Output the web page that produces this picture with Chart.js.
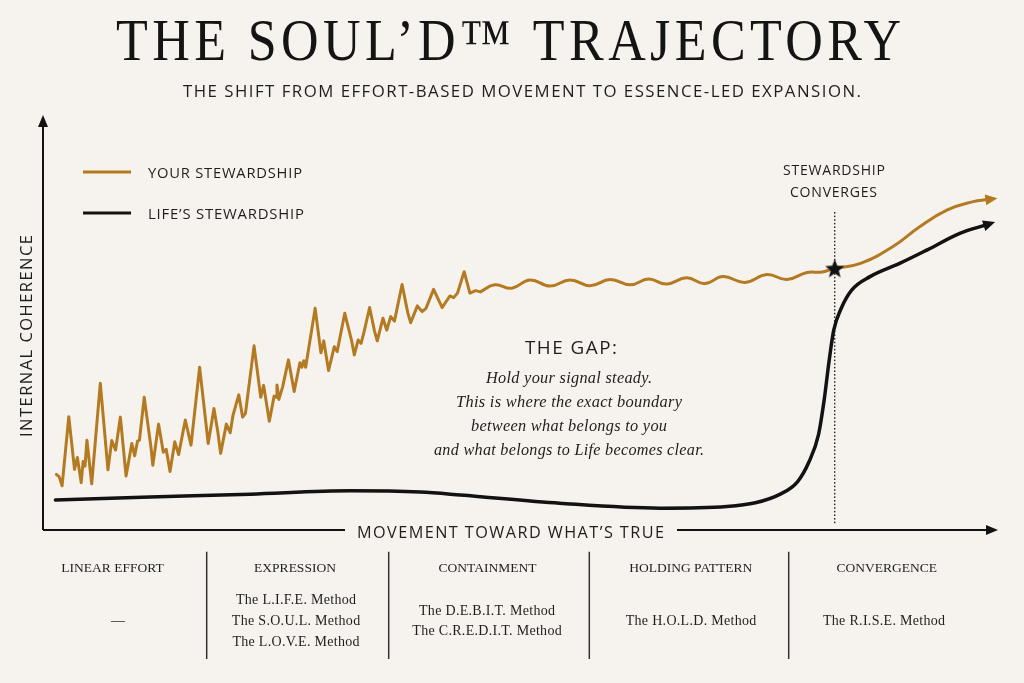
<!DOCTYPE html>
<html><head><meta charset="utf-8">
<script src="https://cdn.jsdelivr.net/npm/chart.js@4.4.1/dist/chart.umd.min.js"></script>
<style>html,body{margin:0;padding:0;background:#F6F3EF;}#wrap{width:1024px;height:683px;position:relative;}canvas{display:block}</style>
</head><body><div id="wrap"><canvas id="c" width="1024" height="683"></canvas></div>
<script>
// ---------- DATA ----------
const chartTitle = 'THE SOUL’D™ TRAJECTORY';
const chartSubtitle = 'THE SHIFT FROM EFFORT-BASED MOVEMENT TO ESSENCE-LED EXPANSION.';
const xAxisTitle = 'MOVEMENT TOWARD WHAT’S TRUE';
const yAxisTitle = 'INTERNAL COHERENCE';
const seriesNames = ['YOUR STEWARDSHIP', 'LIFE’S STEWARDSHIP'];

// Your stewardship – effort-based (jagged) phase
const goldEffortX = [1.4,1.7,2.0,2.7,3.3,3.6,4.0,4.2,4.4,4.6,5.1,6.0,6.8,7.2,7.6,8.1,8.7,9.3,9.6,9.9,10.1,10.6,11.3,11.5,12.1,12.6,12.9,13.3,13.8,14.2,14.9,15.5,16.4,17.1,17.3,17.9,18.3,18.6,19.2,19.6,19.9,20.5,20.9,21.2,22.1,22.8,23.1,23.7,24.2,24.4,24.5,24.7,25.1,25.7,26.3,26.9,27.1,27.3,27.5,28.5,29.1,29.4,29.9,30.5,30.8,31.6,32.3,32.6,33.0,33.3,33.6,34.2,34.7,35.0,35.6,36.0,36.4,36.8,37.6,38.2,38.5,39.2,39.7,40.1,40.9,41.8,42.6,43.0,43.4,44.1,44.7,45.3,45.8];
const goldEffortY = [13.5,12.9,10.7,27.5,14.7,17.6,11.5,16.6,15.5,21.8,11.2,35.6,14.6,21.7,19.4,27.4,13.1,21.0,18.0,21.6,21.8,32.2,20.2,15.7,25.7,18.9,19.6,14.2,21.4,18.3,26.7,20.6,39.5,25.1,21.0,29.5,23.9,18.6,25.7,23.6,27.9,32.8,27.4,28.3,44.7,32.2,35.1,26.4,32.5,32.2,35.2,31.7,34.8,41.3,33.6,40.6,39.5,41.1,39.5,53.8,43.0,45.9,38.7,44.5,43.3,52.6,46.1,42.5,46.1,45.3,47.9,54.0,48.4,45.9,51.4,48.5,51.8,50.7,59.6,52.7,50.3,54.4,53.0,53.8,58.4,54.0,56.8,56.4,57.5,62.7,57.5,58.1,57.8];

// Your stewardship – holding (wavy) phase and expansion
const goldEssenceX = [45.8,47.3,49.1,51.0,53.1,55.2,57.3,59.4,61.5,63.4,65.3,67.4,69.3,71.2,73.5,75.8,77.9,80.0,81.6,82.9,85.6,89.0,91.8,94.7,97.4,98.9];
const goldEssenceY = [57.8,59.5,58.7,60.7,59.2,60.7,59.3,60.8,59.5,60.9,59.7,61.2,59.8,61.5,60.1,62.0,60.8,62.5,62.6,63.5,64.7,68.8,73.6,77.7,79.7,80.2];

// Life's stewardship
const lifeX = [1.3,11.2,21.7,32.2,39.5,43.7,54.1,64.6,71.6,74.6,77.2,79.0,80.2,81.2,81.8,82.3,82.8,83.6,84.7,86.6,89.7,92.6,96.0,98.7];
const lifeY = [7.3,8.0,8.7,9.5,9.2,8.5,6.5,5.3,5.7,6.6,8.7,11.7,16.5,23.1,31.6,40.8,48.5,53.9,58.3,61.5,64.7,68.0,72.0,74.0];

// Convergence point
const convergenceX = [82.9];
const convergenceY = [63.5];
const convergenceLabel = ['STEWARDSHIP', 'CONVERGES'];

// Gap annotation
const gapTitle = 'THE GAP:';
const gapLines = ['Hold your signal steady.', 'This is where the exact boundary', 'between what belongs to you', 'and what belongs to Life becomes clear.'];

// Phase table
const phaseNames = ['LINEAR EFFORT', 'EXPRESSION', 'CONTAINMENT', 'HOLDING PATTERN', 'CONVERGENCE'];
const phaseMethods = [
  ['—'],
  ['The L.I.F.E. Method', 'The S.O.U.L. Method', 'The L.O.V.E. Method'],
  ['The D.E.B.I.T. Method', 'The C.R.E.D.I.T. Method'],
  ['The H.O.L.D. Method'],
  ['The R.I.S.E. Method']
];

// ---------- STYLE ----------
const BG = '#F6F3EF';
const GOLD = '#B47A21';
const INK = '#121212';
const TEXT = '#1E1E1E';

const zip = (xs, ys) => xs.map((x, i) => ({x, y: ys[i]}));

// star point style
const starImg = document.createElement('canvas');
starImg.width = 22; starImg.height = 22;
(function(){
  const c = starImg.getContext('2d');
  c.fillStyle = INK; c.beginPath();
  for (let i = 0; i < 10; i++) {
    const r = i % 2 === 0 ? 10 : 4.3;
    const a = -Math.PI/2 + i * Math.PI/5;
    const px = 11 + r*Math.cos(a), py = 11.8 + r*Math.sin(a);
    i === 0 ? c.moveTo(px, py) : c.lineTo(px, py);
  }
  c.closePath(); c.fill();
})();

function fitText(ctx, text, x, y, font, width, o) {
  o = o || {};
  ctx.save();
  ctx.font = font;
  try { ctx.letterSpacing = (o.ls || 0) + 'px'; } catch(e) {}
  ctx.textAlign = 'left';
  let w = ctx.measureText(text).width - (o.ls || 0);
  let s = width ? width / w : 1;
  s = Math.max(0.6, Math.min(1.5, s));
  ctx.translate(x, y);
  if (o.rotate) ctx.rotate(o.rotate);
  ctx.scale(s, 1);
  ctx.fillStyle = o.color || TEXT;
  ctx.textBaseline = 'alphabetic';
  const align = o.align || 'center';
  const startX = align === 'center' ? -w/2 : (align === 'right' ? -w : 0);
  ctx.fillText(text, startX, 0);
  ctx.restore();
}

function arrowHead(ctx, tipX, tipY, dx, dy, len, half, color) {
  const m = Math.hypot(dx, dy) || 1; dx /= m; dy /= m;
  const bx = tipX - dx*len, by = tipY - dy*len;
  ctx.save(); ctx.fillStyle = color; ctx.beginPath();
  ctx.moveTo(tipX, tipY);
  ctx.lineTo(bx - dy*half, by + dx*half);
  ctx.lineTo(bx + dy*half, by - dx*half);
  ctx.closePath(); ctx.fill(); ctx.restore();
}

const decor = {
  id: 'decor',
  beforeDraw(chart) {
    const ctx = chart.ctx;
    ctx.save(); ctx.fillStyle = BG; ctx.fillRect(0, 0, chart.width, chart.height); ctx.restore();
  },
  beforeDatasetsDraw(chart) {
    const ctx = chart.ctx, a = chart.chartArea;
    const xs = chart.scales.x;
    ctx.save();
    ctx.strokeStyle = INK; ctx.lineWidth = 2;
    ctx.beginPath(); ctx.moveTo(a.left, a.bottom); ctx.lineTo(a.left, a.top + 8); ctx.stroke();
    arrowHead(ctx, a.left, a.top - 3, 0, -1, 12, 5, INK);
    ctx.beginPath(); ctx.moveTo(a.left, a.bottom); ctx.lineTo(a.right - 10, a.bottom); ctx.stroke();
    arrowHead(ctx, a.right, a.bottom, 1, 0, 12, 5, INK);
    // dotted convergence line
    const cx = xs.getPixelForValue(convergenceX[0]);
    ctx.fillStyle = '#2a2a2a';
    for (let y = 212; y <= 522; y += 3.6) ctx.fillRect(cx - 0.7, y, 1.4, 1.6);
    // x title with background patch
    ctx.fillStyle = BG; ctx.fillRect(345, 524, 332, 13);
    ctx.restore();
    fitText(ctx, xAxisTitle, 510.5, 538.3, '17px "Open Sans"', 307, {ls: 1.5});
    fitText(ctx, yAxisTitle, 31.7, 336, '17px "Open Sans"', 202, {ls: 1.5, rotate: -Math.PI/2});
    // convergence label
    fitText(ctx, convergenceLabel[0], 834, 175, '15px "Open Sans"', 102, {ls: 0.8});
    fitText(ctx, convergenceLabel[1], 833.5, 196.7, '15px "Open Sans"', 87, {ls: 0.8});
    // gap annotation
    fitText(ctx, gapTitle, 571, 354, '19px "Open Sans"', 92, {ls: 1.5});
    const gw = [166, 226, 196, 270], gb = [383, 407, 431, 455];
    gapLines.forEach((t, i) => fitText(ctx, t, 569, gb[i], 'italic 17px "Liberation Serif"', gw[i], {ls: 0.3}));
  },
  afterDatasetsDraw(chart) {
    const ctx = chart.ctx;
    [[1, GOLD], [2, INK]].forEach(([i, col]) => {
      const pts = chart.getDatasetMeta(i).data;
      const L = pts[pts.length - 1], P = pts[pts.length - 2];
      const useCp = L.cp1x !== undefined && Math.abs(L.cp1x - L.x) > 0.5;
      let dx = L.x - (useCp ? L.cp1x : P.x);
      let dy = L.y - (useCp ? L.cp1y : P.y);
      const m = Math.hypot(dx, dy); dx /= m; dy /= m;
      arrowHead(ctx, L.x + dx*10, L.y + dy*10, dx, dy, 12, 5.5, col);
    });
  },
  afterDraw(chart) {
    const ctx = chart.ctx;
    fitText(ctx, chartTitle, 508.5, 60, '59px "Liberation Serif"', 785, {ls: 5, color: '#141414'});
    fitText(ctx, chartSubtitle, 522, 97, '17px "Open Sans"', 678, {ls: 1.5});
    // legend
    ctx.save(); ctx.lineWidth = 3;
    ctx.strokeStyle = GOLD; ctx.beginPath(); ctx.moveTo(83, 172); ctx.lineTo(131, 172); ctx.stroke();
    ctx.strokeStyle = INK; ctx.beginPath(); ctx.moveTo(83, 213); ctx.lineTo(131, 213); ctx.stroke();
    ctx.restore();
    fitText(ctx, seriesNames[0], 148, 178.3, '15px "Open Sans"', 154, {ls: 0.8, align: 'left'});
    fitText(ctx, seriesNames[1], 148, 219.3, '15px "Open Sans"', 156, {ls: 0.8, align: 'left'});
    // phase table
    const headC = [112.5, 295, 487.5, 690.7, 886.7];
    const bodyC = [118, 296, 487, 691, 884];
    const seps = [206.7, 388.7, 589.3, 788.7];
    ctx.save(); ctx.strokeStyle = '#333'; ctx.lineWidth = 1.5;
    seps.forEach(x => { ctx.beginPath(); ctx.moveTo(x, 551.7); ctx.lineTo(x, 659); ctx.stroke(); });
    ctx.restore();
    phaseNames.forEach((t, i) => fitText(ctx, t, headC[i], 571.5, '13.5px "Liberation Serif"', 0, {}));
    phaseMethods.forEach((lines, i) => {
      const n = lines.length, step = 20.8;
      const first = 625 - (n - 1) * step / 2;
      lines.forEach((t, j) => fitText(ctx, t, bodyC[i], first + j*step, '14px "Liberation Serif"', 0, {ls: 0.3}));
    });
  }
};

new Chart(document.getElementById('c'), {
  type: 'line',
  data: {
    datasets: [
      {label: seriesNames[0], data: zip(goldEffortX, goldEffortY), borderColor: GOLD, borderWidth: 3, tension: 0, pointRadius: 0, borderJoinStyle: 'round', borderCapStyle: 'round', fill: false, order: 2},
      {label: seriesNames[0], data: zip(goldEssenceX, goldEssenceY), borderColor: GOLD, borderWidth: 3, tension: 0.45, pointRadius: 0, borderJoinStyle: 'round', fill: false, order: 2},
      {label: seriesNames[1], data: zip(lifeX, lifeY), borderColor: INK, borderWidth: 3.5, cubicInterpolationMode: 'monotone', pointRadius: 0, borderCapStyle: 'round', fill: false, order: 3},
      {label: 'Convergence', data: zip(convergenceX, convergenceY), showLine: false, pointStyle: starImg, pointRadius: 10, order: 0}
    ]
  },
  options: {
    responsive: false,
    animation: false,
    layout: {padding: {left: 43, right: 26, top: 118, bottom: 153}},
    scales: {
      x: {type: 'linear', min: 0, max: 100, display: false},
      y: {type: 'linear', min: 0, max: 100, display: false}
    },
    plugins: {legend: {display: false}, tooltip: {enabled: false}},
    clip: false
  },
  plugins: [decor]
});
</script></body></html>
